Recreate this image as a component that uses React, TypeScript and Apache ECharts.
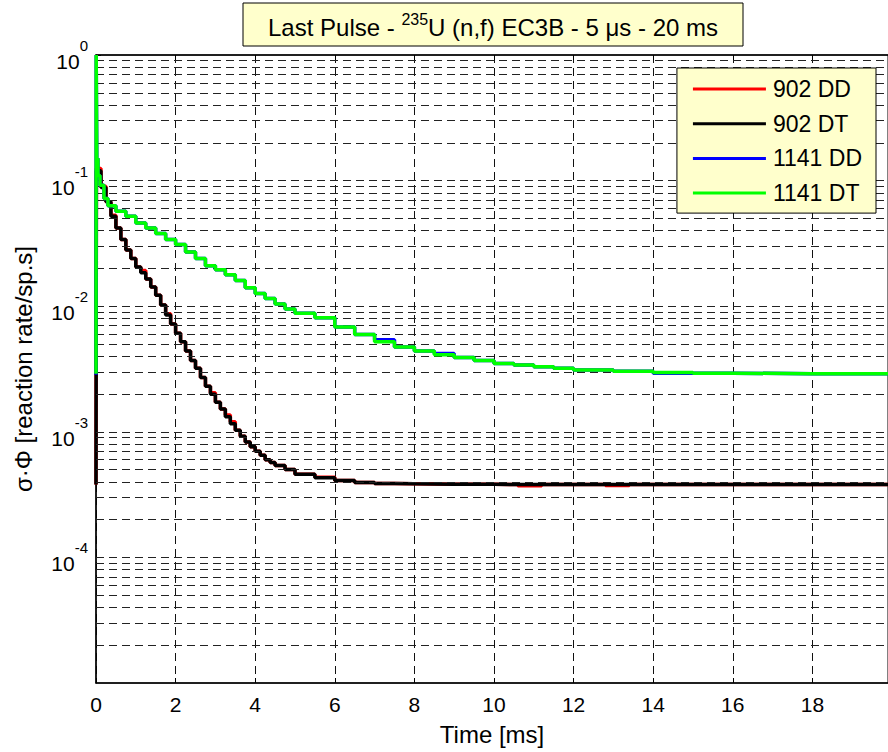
import React, { useEffect, useRef } from "react";
import * as echarts from "echarts";

const FONT = '"Liberation Sans", Arial, Helvetica, sans-serif';

// ---- data ----
const seriesNames = ["902 DD", "902 DT", "1141 DD", "1141 DT"];
const seriesColors = ["#ff0000", "#000000", "#0000ff", "#00ff00"];

const time902 = [
  0, 0.01, 0.125, 0.25, 0.375, 0.5, 0.625, 0.75, 0.875, 1.0, 1.125, 1.25, 1.375,
  1.5, 1.625, 1.75, 1.875, 2.0, 2.125, 2.25, 2.375, 2.5, 2.625, 2.75, 2.875, 3.0,
  3.125, 3.25, 3.375, 3.5, 3.625, 3.75, 3.875, 4.0, 4.125, 4.25, 4.375, 4.5,
  4.75, 5.0, 5.5, 6.0, 6.5, 7.0, 7.5, 8.0, 9.0, 10.0, 10.6, 11.2, 12.0, 12.8,
  13.4, 14.0, 16.0, 18.0, 19.9,
];
const dt902 = [
  3.8e-4, 0.12, 0.088, 0.068, 0.052, 0.042, 0.034, 0.028, 0.024, 0.0205, 0.0185,
  0.0165, 0.0142, 0.0122, 0.0102, 0.0085, 0.0072, 0.0061, 0.0052, 0.0044,
  0.0037, 0.0032, 0.0027, 0.0023, 0.00199, 0.00172, 0.00152, 0.00132, 0.00116,
  0.00103, 0.00092, 0.00083, 0.00076, 0.0007, 0.00065, 0.0006, 0.00057,
  0.00054, 0.0005, 0.00046, 0.00043, 0.00041, 0.000395, 0.000388, 0.000385,
  0.000383, 0.000382, 0.00038, 0.00038, 0.00038, 0.00038, 0.00038, 0.00038,
  0.00038, 0.00038, 0.00038, 0.00038,
];
const dd902 = [
  3.8e-4, 0.125, 0.09, 0.068, 0.053, 0.042, 0.034, 0.028, 0.024, 0.0205, 0.0192,
  0.0165, 0.0142, 0.0122, 0.0102, 0.0087, 0.0072, 0.0061, 0.0052, 0.0044,
  0.0037, 0.0032, 0.0027, 0.0023, 0.00205, 0.00172, 0.00152, 0.00136, 0.0012,
  0.00103, 0.00092, 0.00083, 0.00076, 0.0007, 0.00065, 0.0006, 0.00057,
  0.00054, 0.0005, 0.00046, 0.000435, 0.00041, 0.000395, 0.000388, 0.000385,
  0.000383, 0.000382, 0.00038, 0.000372, 0.00038, 0.00038, 0.000374, 0.00038,
  0.00038, 0.00038, 0.00038, 0.00038,
];

const time1141 = [
  0, 0.005, 0.02, 0.05, 0.1, 0.2, 0.3, 0.5, 0.75, 1.0, 1.25, 1.5, 1.75, 2.0,
  2.25, 2.5, 2.75, 3.0, 3.25, 3.5, 3.75, 4.0, 4.25, 4.5, 4.75, 5.0, 5.5, 6.0,
  6.5, 7.0, 7.5, 8.0, 8.5, 9.0, 9.5, 10.0, 10.5, 11.0, 11.5, 12.0, 13.0, 14.0,
  15.0, 16.0, 18.0, 19.9,
];
const dd1141 = [
  0.00285, 1.0, 0.15, 0.11, 0.092, 0.072, 0.063, 0.057, 0.052, 0.046, 0.042,
  0.038, 0.034, 0.031, 0.027, 0.024, 0.021, 0.0195, 0.0178, 0.016, 0.014,
  0.0126, 0.0115, 0.0104, 0.0095, 0.0088, 0.0081, 0.00684, 0.00594, 0.0054,
  0.00474, 0.0044, 0.0042, 0.0039, 0.0037, 0.0035, 0.0034, 0.0033, 0.0032,
  0.0031, 0.00303, 0.00292, 0.00293, 0.0029, 0.0029, 0.0029,
];
const dt1141 = [
  0.0029, 1.0, 0.15, 0.11, 0.092, 0.072, 0.063, 0.057, 0.052, 0.046, 0.042,
  0.038, 0.034, 0.031, 0.027, 0.024, 0.021, 0.0195, 0.0178, 0.016, 0.014,
  0.0126, 0.0115, 0.0104, 0.0095, 0.0088, 0.0081, 0.00684, 0.00594, 0.0052,
  0.00474, 0.0044, 0.0041, 0.0039, 0.0037, 0.0035, 0.0034, 0.0033, 0.0032,
  0.0031, 0.00303, 0.00297, 0.00293, 0.0029, 0.0029, 0.0029,
];

const xMin = 0;
const xMax = 19.9;
const xInterval = 2;
const yMin = 1e-5;
const yMax = 1;
const decadeExponents = [-5, -4, -3, -2, -1];
const minorMultipliers = [1, 2, 3, 4, 5, 6, 7, 8, 9];

const titleParts = ["Last Pulse - ", "235", "U (n,f) EC3B - 5 ", "μ", "s - 20 ms"];

function pairs(t: number[], v: number[]) {
  return t.map((x, i) => [x, v[i]]);
}

export default function App() {
  const ref = useRef<HTMLDivElement>(null);
  useEffect(() => {
    if (!ref.current) return;
    const chart = echarts.init(ref.current, null, { renderer: "svg" });

    const gridValues: number[] = [];
    decadeExponents.forEach((e) => {
      minorMultipliers.forEach((m) => {
        const v = Number((m * Math.pow(10, e)).toPrecision(3));
        if (v > yMin && v < yMax) gridValues.push(v);
      });
    });

    const dataSets = [
      pairs(time902, dd902),
      pairs(time902, dt902),
      pairs(time1141, dd1141),
      pairs(time1141, dt1141),
    ];

    const curves = seriesNames.map((name, i) => ({
      name,
      type: "line",
      step: "end",
      data: dataSets[i],
      showSymbol: false,
      symbol: "none",
      z: 3 + i,
      lineStyle: { color: seriesColors[i], width: 3.5 },
      itemStyle: { color: seriesColors[i] },
      clip: true,
    }));

    const option: any = {
      animation: false,
      backgroundColor: "#ffffff",
      textStyle: { fontFamily: FONT },
      grid: {
        left: 96,
        top: 55,
        width: 792,
        height: 628,
        show: true,
        borderColor: "#000",
        borderWidth: 1,
        backgroundColor: "transparent",
      },
      legend: {
        orient: "vertical",
        right: 12,
        top: 68,
        backgroundColor: "#ffffcc",
        borderColor: "#000",
        borderWidth: 1,
        padding: [9, 14, 8, 16],
        itemWidth: 73,
        itemHeight: 3,
        itemGap: 10.7,
        icon: "rect",
        selectedMode: false,
        data: seriesNames,
        textStyle: {
          fontFamily: FONT,
          fontSize: 23,
          color: "#000",
          lineHeight: 24,
          padding: [0, 0, 0, 2],
        },
        z: 20,
      },
      xAxis: [
        {
          type: "value",
          min: xMin,
          max: xMax,
          interval: xInterval,
          name: "Time [ms]",
          nameLocation: "middle",
          nameGap: 39,
          nameTextStyle: { fontFamily: FONT, fontSize: 24, color: "#000" },
          axisLine: { show: true, lineStyle: { color: "#000", width: 1.5 } },
          axisTick: { show: true, inside: true, length: 5, lineStyle: { color: "#000" } },
          axisLabel: {
            fontFamily: FONT,
            fontSize: 21,
            color: "#000",
            margin: 11,
            showMaxLabel: false,
          },
          splitLine: {
            show: true,
            lineStyle: { color: "#111", width: 1, type: [8, 5] },
          },
        },
        {
          type: "value",
          position: "top",
          min: xMin,
          max: xMax,
          interval: xInterval,
          axisLine: { show: true, lineStyle: { color: "#000", width: 1.5 } },
          axisTick: { show: true, inside: true, length: 5, lineStyle: { color: "#000" } },
          axisLabel: { show: false },
          splitLine: { show: false },
        },
      ],
      yAxis: {
        type: "log",
        logBase: 10,
        min: yMin,
        max: yMax,
        splitNumber: 5,
        name: "σ·Φ [reaction rate/sp.s]",
        nameLocation: "middle",
        nameGap: 61,
        nameTextStyle: { fontFamily: FONT, fontSize: 24, color: "#000" },
        axisLine: { show: true, lineStyle: { color: "#000", width: 1.5 } },
        axisTick: { show: true, inside: true, length: 5, lineStyle: { color: "#000" } },
        splitLine: { show: false },
        axisLabel: {
          margin: 8,
          showMinLabel: false,
          formatter: (v: number) => {
            const e = Math.round(Math.log10(v));
            return `{b|10}{e|${e}}`;
          },
          rich: {
            b: {
              fontFamily: FONT,
              fontSize: 21,
              color: "#000",
              lineHeight: 34,
              verticalAlign: "bottom",
            },
            e: {
              fontFamily: FONT,
              fontSize: 15,
              color: "#000",
              lineHeight: 12,
              verticalAlign: "top",
            },
          },
        },
      },
      series: [
        {
          name: "__grid",
          type: "line",
          data: [],
          z: 1,
          silent: true,
          markLine: {
            silent: true,
            precision: 12,
            symbol: ["none", "none"],
            animation: false,
            label: { show: false },
            lineStyle: { color: "#222", width: 1, type: [8, 5] },
            data: gridValues.map((v) => ({ yAxis: v })),
          },
        },
        ...curves,
      ],
      graphic: [
        {
          type: "rect",
          shape: { x: 243, y: 3, width: 500, height: 43 },
          style: { fill: "#ffffcc", stroke: "#000", lineWidth: 1 },
          z: 50,
        },
        {
          type: "text",
          x: 493,
          y: 25,
          z: 51,
          style: {
            text:
              `{n|${titleParts[0]}}{s|${titleParts[1]}}{n|${titleParts[2]}}{n|${titleParts[3]}}{n|${titleParts[4]}}`,
            align: "center",
            verticalAlign: "middle",
            rich: {
              n: {
                fontFamily: FONT,
                fontSize: 24,
                fill: "#000",
                lineHeight: 28,
                verticalAlign: "bottom",
              },
              s: {
                fontFamily: FONT,
                fontSize: 16,
                fill: "#000",
                lineHeight: 12,
                verticalAlign: "top",
              },
            },
          },
        },
      ],
    };

    chart.setOption(option);
    return () => chart.dispose();
  }, []);

  return (
    <div
      ref={ref}
      style={{ position: "fixed", left: 0, top: 0, width: 888, height: 752, background: "#fff" }}
    />
  );
}
